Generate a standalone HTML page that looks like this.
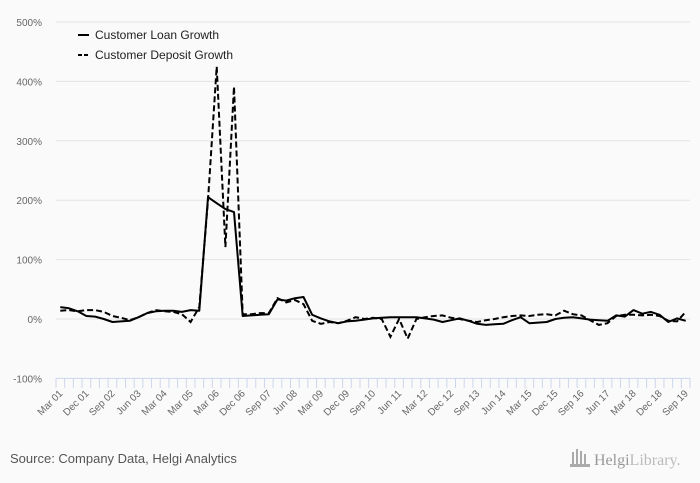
<!DOCTYPE html>
<html><head><meta charset="utf-8"><style>
body{margin:0;background:#fafafa;}
svg{display:block;font-family:"Liberation Sans",sans-serif;}
</style></head><body>
<svg id="chart" width="700" height="483">
<rect width="700" height="483" fill="#fafafa"/>
<g id="grid"></g><g id="xaxis"></g><g id="series"></g>
<g>
<g><line x1="78" y1="35" x2="89" y2="35" stroke="#000" stroke-width="2"/><text x="95" y="39" font-size="12" fill="#222">Customer Loan Growth</text></g>
<g><line x1="78" y1="55" x2="89" y2="55" stroke="#000" stroke-width="2" stroke-dasharray="4,2"/><text x="95" y="59" font-size="12" fill="#222">Customer Deposit Growth</text></g>
</g>
<text x="10" y="463" font-size="13" fill="#555">Source: Company Data, Helgi Analytics</text>
<g>
<g fill="#aaa"><rect x="572" y="452" width="2" height="12"/><rect x="576" y="449" width="2" height="15"/><rect x="580" y="451" width="2" height="13"/><rect x="584" y="454" width="2" height="10"/><rect x="570" y="464" width="20" height="3"/></g>
<text x="594" y="465" font-size="16" fill="#999" font-family="Liberation Serif,serif">Helgi<tspan fill="#bbb">Library.</tspan></text>
</g>
</svg>
<script>
const labels=["Mar 01","Dec 01","Sep 02","Jun 03","Mar 04","Mar 05","Mar 06","Dec 06","Sep 07","Jun 08","Mar 09","Dec 09","Sep 10","Jun 11","Mar 12","Dec 12","Sep 13","Jun 14","Mar 15","Dec 15","Sep 16","Jun 17","Mar 18","Dec 18","Sep 19"];
const yTicks=[-100,0,100,200,300,400,500];
const loan=[20,18,13,5,4,0,-5,-4,-3,3,10,13,14,14,12,15,14,205,195,185,180,5,6,7,8,33,31,35,37,7,1,-4,-7,-4,-3,-1,1,2,3,3,3,3,1,-1,-5,-2,1,-3,-8,-10,-9,-8,-2,3,-7,-6,-5,0,2,3,1,-1,-2,-3,6,4,15,9,12,7,-5,1,-3];
const deposit=[14,15,13,15,15,12,5,2,-2,3,10,15,13,12,8,-5,20,200,425,121,391,8,8,10,10,35,28,32,25,-3,-8,-5,-7,-3,3,0,2,0,-30,0,-33,0,3,5,6,2,0,-3,-5,-2,0,3,5,6,5,7,8,6,14,8,6,-2,-10,-7,5,7,7,6,7,5,-3,-4,12];
const N=loan.length,X0=56,X1=690,band=(X1-X0)/N;
const xs=i=>X0+band*(i+0.5);
const ys=v=>319-v*0.594;
const NS="http://www.w3.org/2000/svg";
function mk(t,a,p){const e=document.createElementNS(NS,t);for(const k in a)e.setAttribute(k,a[k]);p.appendChild(e);return e;}
const grid=document.getElementById('grid'),xa=document.getElementById('xaxis'),se=document.getElementById('series');
yTicks.forEach(v=>{
 const l=mk('line',{x1:X0,x2:X1,y1:ys(v),y2:ys(v),stroke:v===-100?'#ccd6eb':'#e3e3e3','stroke-width':1},grid);
 
 
 const t=mk('text',{x:42,y:ys(v)+4,'text-anchor':'end','font-size':10,fill:'#666'},grid);
 t.textContent=v+'%';
 
 
});
for(let i=0;i<=N;i++){
 const x=X0+band*i;
 const tk=mk('line',{x1:x,x2:x,y1:378,y2:388,stroke:'#ccd6eb'},xa);
 
 
}
labels.forEach((s,k)=>{
 const x=xs(k*3)+3,y=394;
 const t=mk('text',{x:x,y:y,'text-anchor':'end','font-size':10,fill:'#666',transform:`rotate(-45 ${x} ${y})`},xa);
 t.textContent=s;
 
 
});
function path(arr){return arr.map((v,i)=>(i?'L':'M')+xs(i).toFixed(1)+' '+ys(v).toFixed(1)).join(' ');}
const p1=mk('path',{d:path(loan),fill:'none',stroke:'#000','stroke-width':2,'stroke-linejoin':'round'},se);


const p2=mk('path',{d:path(deposit),fill:'none',stroke:'#000','stroke-width':2,'stroke-dasharray':'6,3'},se);


</script>
</body></html>
